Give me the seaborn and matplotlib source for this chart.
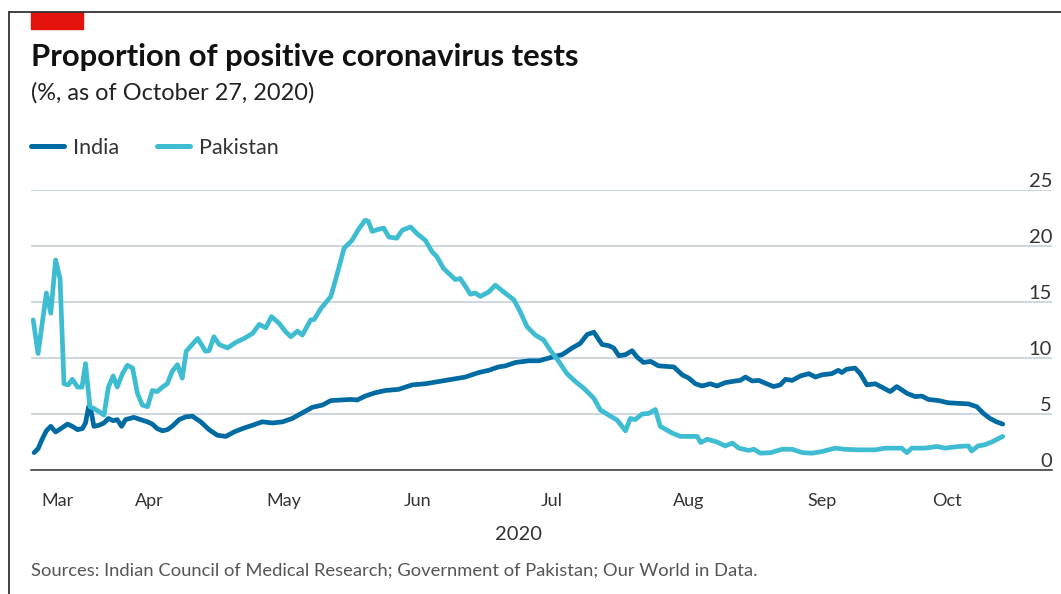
import seaborn as sns
import matplotlib.pyplot as plt
import matplotlib.dates as mdates
import matplotlib.patches as mpatches
import matplotlib.lines as mlines
import pandas as pd
import numpy as np

# days are counted from March 20th 2020
start = pd.Timestamp('2020-03-20')

india_days = [0.7, 1.6, 2.6, 3.5, 4.5, 5.6, 6.8, 8.3, 9.4, 10.6, 11.7, 12.4, 13.1, 13.7, 14.3,
              15.5, 16.6, 17.6, 18.7, 19.6, 20.6, 21.5, 23.4, 24.9, 26.5, 27.6, 28.7, 29.9, 31.0,
              32.1, 33.7, 35.2, 36.7, 38.6, 40.5, 42.4, 44.3, 46.2, 48.1, 50.4, 52.6, 54.9, 57.2,
              59.4, 61.7, 64.0, 66.3, 68.2, 70.4, 72.7, 74.2, 76.0, 78.3, 80.6, 83.6, 86.7, 89.7,
              92.7, 95.7, 98.8, 101.8, 104.1, 106.3, 107.9, 110.2, 113.2, 115.5, 117.8, 120.8,
              123.1, 124.9, 126.5, 128.0, 129.9, 131.4, 132.5, 133.7, 135.2, 136.7, 137.8, 139.3,
              140.9, 142.7, 144.3, 146.2, 148.1, 149.6, 151.1, 152.6, 154.5, 156.0, 157.9, 160.2,
              161.3, 162.5, 164.0, 165.5, 167.0, 168.9, 170.4, 171.6, 173.1, 175.0, 176.9, 178.4,
              179.9, 182.1, 183.6, 184.4, 185.5, 187.4, 188.6, 190.1, 192.0, 193.5, 195.4, 196.9,
              199.2, 201.1, 202.6, 204.1, 206.4, 208.6, 210.9, 213.2, 215.1, 216.6, 218.1, 219.6,
              221.0]
india_vals = [1.55, 1.9, 2.8, 3.5, 3.9, 3.4, 3.7, 4.1, 3.9, 3.6, 3.7, 4.2, 5.65, 5.2, 3.9,
              4.0, 4.2, 4.6, 4.4, 4.5, 3.9, 4.5, 4.7, 4.5, 4.3, 4.1, 3.7, 3.5, 3.6,
              3.9, 4.5, 4.75, 4.8, 4.3, 3.6, 3.1, 3.0, 3.4, 3.7, 4.0, 4.3, 4.2, 4.3,
              4.6, 5.1, 5.6, 5.8, 6.2, 6.25, 6.3, 6.25, 6.6, 6.9, 7.1, 7.2, 7.6, 7.7,
              7.9, 8.1, 8.3, 8.7, 8.9, 9.2, 9.3, 9.6, 9.75, 9.75, 10.0, 10.3,
              10.9, 11.3, 12.1, 12.3, 11.2, 11.1, 10.9, 10.2, 10.3, 10.65, 10.1, 9.6,
              9.7, 9.3, 9.25, 9.2, 8.5, 8.2, 7.7, 7.5, 7.7, 7.5, 7.8, 7.95,
              8.0, 8.3, 7.95, 8.0, 7.75, 7.45, 7.6, 8.1, 8.0, 8.4, 8.6, 8.3,
              8.5, 8.6, 8.9, 8.7, 9.0, 9.1, 8.6, 7.6, 7.7, 7.4, 7.0, 7.45,
              6.85, 6.55, 6.6, 6.3, 6.2, 6.0, 5.95, 5.9, 5.65, 5.05, 4.6, 4.3,
              4.1]

pakistan_days = [0.5, 1.6, 3.5, 4.5, 5.6, 6.6, 7.5, 8.5, 9.4, 10.6, 11.6, 12.4, 13.4, 14.3, 15.5,
                 16.6, 17.6, 18.7, 19.6, 20.8, 21.9, 23.1, 24.2, 25.3, 26.5, 27.6, 28.7, 29.9,
                 31.0, 32.1, 33.3, 34.4, 35.3, 37.9, 39.7, 40.5, 41.6, 42.8, 44.7, 46.6, 48.5,
                 50.4, 51.9, 53.4, 54.7, 56.4, 57.9, 59.1, 60.6, 61.7, 63.6, 64.4, 65.9, 68.2,
                 69.7, 71.2, 73.0, 74.5, 76.0, 76.7, 77.6, 79.1, 80.2, 81.4, 83.2, 84.4, 86.3,
                 87.8, 89.7, 91.2, 92.3, 93.8, 95.4, 96.5, 97.6, 98.8, 99.9, 101.0, 102.2, 104.1,
                 105.6, 107.5, 109.8, 111.3, 112.8, 114.7, 116.6, 118.1, 120.0, 121.9, 123.8,
                 125.7, 128.0, 129.5, 131.4, 133.3, 135.2, 136.3, 137.4, 139.0, 140.5, 142.0,
                 143.1, 145.8, 147.7, 149.6, 151.5, 152.3, 153.8, 156.0, 157.9, 159.5, 161.0,
                 163.2, 164.4, 165.9, 168.2, 170.8, 173.1, 175.4, 177.6, 179.9, 182.9, 185.1,
                 188.2, 192.0, 194.2, 198.0, 199.2, 200.3, 203.3, 206.0, 207.9, 210.9, 213.2,
                 213.9, 215.4, 216.9, 218.5, 220.0, 221.0]
pakistan_vals = [13.4, 10.4, 15.8, 14.0, 18.75, 17.1, 7.7, 7.6, 8.1, 7.4, 7.4, 9.5, 5.65, 5.5, 5.2,
                 4.9, 7.4, 8.4, 7.4, 8.6, 9.35, 9.1, 6.85, 5.8, 5.65, 7.1, 7.0, 7.4,
                 7.7, 8.8, 9.4, 8.2, 10.6, 11.75, 10.6, 10.65, 11.9, 11.2, 10.9, 11.4, 11.75,
                 12.2, 13.0, 12.7, 13.7, 13.1, 12.35, 11.9, 12.4, 12.05, 13.4, 13.45, 14.4, 15.5,
                 17.6, 19.8, 20.5, 21.5, 22.3, 22.2, 21.3, 21.5, 21.6, 20.8, 20.7, 21.4, 21.7,
                 21.1, 20.5, 19.5, 19.05, 18.0, 17.4, 17.0, 17.1, 16.4, 15.7, 15.8, 15.5, 15.9,
                 16.5, 15.9, 15.2, 14.1, 12.8, 12.05, 11.6, 10.7, 9.7, 8.6, 7.9,
                 7.3, 6.4, 5.35, 4.9, 4.45, 3.5, 4.6, 4.5, 5.0, 5.05, 5.4,
                 3.9, 3.3, 3.0, 3.0, 3.0, 2.45, 2.75, 2.5, 2.15, 2.4, 1.95,
                 1.75, 1.85, 1.5, 1.55, 1.85, 1.85, 1.55, 1.5, 1.65, 1.95, 1.85,
                 1.8, 1.8, 1.95, 1.95, 1.55, 1.95, 1.95, 2.1, 1.95, 2.1, 2.15,
                 1.7, 2.15, 2.25, 2.5, 2.8, 3.0]

countries = ['India', 'Pakistan']
colors = ['#006BA2', '#3EBCD2']
tick_dates = ['2020-03-20', '2020-04-01', '2020-05-01', '2020-06-01', '2020-07-01',
              '2020-08-01', '2020-09-01', '2020-10-01', '2020-10-27 12:00']
month_labels = ['Mar', 'Apr', 'May', 'Jun', 'Jul', 'Aug', 'Sep', 'Oct']
y_ticks = [0, 5, 10, 15, 20, 25]


def to_frame(days, vals, name):
    return pd.DataFrame({'date': start + pd.to_timedelta(days, unit='D'),
                         'value': vals, 'country': name})


df = pd.concat([to_frame(india_days, india_vals, 'India'),
                to_frame(pakistan_days, pakistan_vals, 'Pakistan')], ignore_index=True)

sns.set_style('white')
plt.rcParams['font.family'] = ['Lato', 'DejaVu Sans']
text_col = '#333333'

W, H = 1061, 594
fig = plt.figure(figsize=(W / 100, H / 100), dpi=100)
ax = fig.add_axes([31 / W, 1 - 470 / H, (1052 - 31) / W, 280 / H])

sns.lineplot(data=df, x='date', y='value', hue='country', hue_order=countries,
             palette=colors, linewidth=3.4, ax=ax)

ax.set_xlim(start, start + pd.Timedelta(days=232.2))
ax.set_ylim(0, 25)
ax.set_xlabel('')
ax.set_ylabel('')

# month ticks: long marks at month starts, labels centred between them
ticks = pd.to_datetime(tick_dates, format='mixed')
tick_nums = mdates.date2num(ticks)
mids = (tick_nums[:-1] + tick_nums[1:]) / 2
ax.set_xticks(tick_nums)
ax.set_xticklabels([''] * len(tick_nums))
ax.set_xticks(mids, minor=True)
ax.set_xticklabels(month_labels, minor=True)
ax.tick_params(axis='x', which='major', length=13, width=1.1, color=text_col, direction='out')
ax.tick_params(axis='x', which='minor', length=0, pad=16.5, labelsize=13, labelcolor=text_col)

ax.set_yticks(y_ticks)
ax.tick_params(axis='y', length=0, labelleft=False)
ax.yaxis.grid(True, color='#C5D0DA', linewidth=1.2)
ax.xaxis.grid(False)
for s in ['left', 'right', 'top']:
    ax.spines[s].set_visible(False)
ax.spines['bottom'].set_color(text_col)
ax.spines['bottom'].set_linewidth(1.1)

for v in y_ticks:
    ax.text(1.0, v, str(v), transform=ax.get_yaxis_transform(), ha='right', va='bottom',
            fontsize=14.5, color=text_col)

sns.move_legend(ax, 'center left', bbox_to_anchor=(31 / W, 1 - 148 / H),
                bbox_transform=fig.transFigure, ncol=2, frameon=False, title=None,
                fontsize=15.5, handlelength=1.55, handletextpad=0.4, columnspacing=1.75,
                borderpad=0, borderaxespad=0)
leg = ax.get_legend()
for t in leg.get_texts():
    t.set_color(text_col)
for h in leg.legend_handles:
    h.set_linewidth(3.6)

# frame lines and red tag
fig.add_artist(mlines.Line2D([9 / W, 1], [1 - 12 / H, 1 - 12 / H], color='#333333', lw=1.3))
fig.add_artist(mlines.Line2D([9 / W, 9 / W], [0, 1 - 12 / H], color='#333333', lw=1.3))
fig.add_artist(mpatches.Rectangle((31 / W, 1 - 29 / H), 52 / W, 17 / H,
                                  color='#E3120B', transform=fig.transFigure))

fig.text(31 / W, 1 - 66 / H, 'Proportion of positive coronavirus tests', fontsize=22.3,
         fontweight='bold', color='#111111', va='baseline')
fig.text(31 / W, 1 - 100 / H, '(%, as of October 27, 2020)', fontsize=16.9,
         color='#222222', va='baseline')
fig.text(519 / W, 1 - 534 / H, '2020', fontsize=14.5, color=text_col, ha='center', va='center')
fig.text(31 / W, 1 - 571 / H,
         'Sources: Indian Council of Medical Research; Government of Pakistan; Our World in Data.',
         fontsize=13.2, color='#555555', va='center')

fig.savefig('out.png', dpi=100)
